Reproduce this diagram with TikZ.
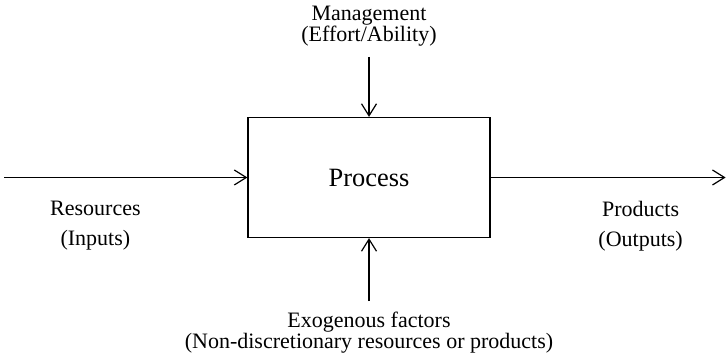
\documentclass[tikz,border=0pt]{standalone}
\usepackage{fontspec}
\setmainfont{Liberation Serif}
\usetikzlibrary{positioning,arrows.meta}

\begin{document}
\begin{tikzpicture}[>={Straight Barb[length=6pt,width=7.5pt]},
    flow/.style={->,line width=0.6pt},
    box/.style={draw,line width=0.6pt,minimum width=121pt,minimum height=60pt,inner sep=0pt,font=\fontsize{13.2}{15}\selectfont},
    lbl/.style={align=center,inner sep=0pt,font=\fontsize{11}{10.5}\selectfont},
    sidelbl/.style={lbl,font=\fontsize{11}{15}\selectfont}]
    \useasboundingbox (0,0) rectangle (363pt,178pt);
    \node[box] (P) at (184.5pt,89.25pt) {Process};
    \coordinate[left=121.5pt of P.west] (in);
    \coordinate[right=117.5pt of P.east] (out);
    \coordinate[above=30pt of P.north] (mgmtin);
    \coordinate[below=31.5pt of P.south] (exoin);
    \draw[flow] (in) -- (P.west);
    \draw[flow] (P.east) -- (out);
    \draw[flow] (mgmtin) -- (P.north);
    \draw[flow] (exoin) -- (P.south);
    \node[lbl,above=5pt of mgmtin] (mgmt) {Management\\(Effort/Ability)};
    \node[lbl,below=5.5pt of exoin] (exo) {Exogenous factors\\(Non-discretionary resources or products)};
    \node[sidelbl,anchor=north] (res) at ([shift={(45.5pt,-11.7pt)}]in) {Resources\\(Inputs)};
    \node[sidelbl,anchor=north] (prod) at ([shift={(-42.5pt,-11.7pt)}]out) {Products\\(Outputs)};
  \end{tikzpicture}
\end{document}
